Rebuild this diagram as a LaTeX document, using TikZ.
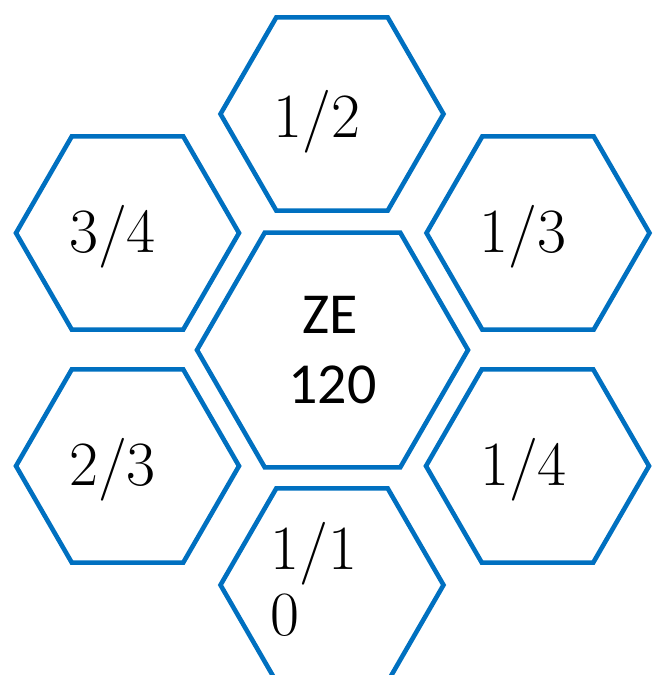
\documentclass[tikz,border=0pt]{standalone}
\usepackage{fontspec}
\usetikzlibrary{shapes.geometric}
\newfontfamily\calib{Carlito}
\definecolor{hexblue}{HTML}{0070C0}
\begin{document}
\begin{tikzpicture}[x=1pt,y=-1pt,
  hexa/.style={regular polygon, regular polygon sides=6, draw=hexblue, line width=4.6pt, inner sep=0pt, outer sep=0pt},
  frac/.style={inner sep=0pt, anchor=base, font=\fontsize{63}{63}\selectfont},
  sanslab/.style={inner sep=0pt, anchor=base, font=\calib\fontsize{58}{58}\selectfont}]
\useasboundingbox (0,0) rectangle (653,675);
\clip (0,0) rectangle (653,675);
\node[hexa, minimum size=223pt] (h12) at (332,114) {};
\node[hexa, minimum size=223pt] (h34) at (127.5,233) {};
\node[hexa, minimum size=223pt] (h13) at (538,233) {};
\node[hexa, minimum size=271pt] (hze) at (332.5,350) {};
\node[hexa, minimum size=223pt] (h23) at (127.5,466) {};
\node[hexa, minimum size=223pt] (h14) at (537.5,466) {};
\node[hexa, minimum size=223pt] (h110) at (332,585) {};
\node[frac] (t12) at (317,137) {1/2};
\node[frac] (t34) at (112.5,252) {3/4};
\node[frac] (t13) at (523,252) {1/3};
\node[frac] (t23) at (112.5,485) {2/3};
\node[frac] (t14) at (523.5,485) {1/4};
\node[frac, anchor=base west] (t110a) at (270,569) {1/1};
\node[frac, anchor=base west] (t110b) at (270,635) {0};
\node[sanslab] (tze) at (330.5,333) {ZE};
\node[sanslab] (t120) at (332.5,403) {120};
\end{tikzpicture}
\end{document}
